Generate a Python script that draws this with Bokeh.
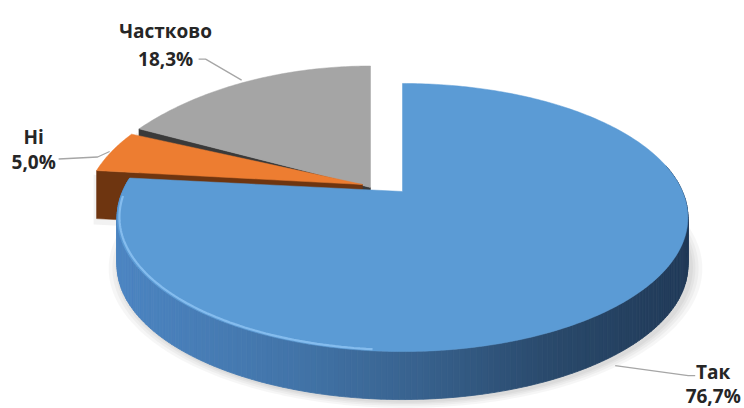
import numpy as np
from bokeh.plotting import figure
from bokeh.models import Range1d
from bokeh.embed import file_html
from bokeh.resources import INLINE
from bokeh.core.properties import value

# ---------------- data ----------------
categories = ["Так", "Ні", "Частково"]
shares = [76.7, 5.0, 18.3]
pct_labels = ["76,7%", "5,0%", "18,3%"]

# ---------------- style / layout ----------------
W, H = 744, 408
DEPTH = 48         # slice thickness (px)
geom = {           # per-slice apex position (explosion), radii and perspective, in px
    "Так": dict(cx=402, cy=191, S=280, T=129, k=0.194),
    "Ні": dict(cx=362, cy=184, S=273, T=133, k=0.194),
    "Частково": dict(cx=370, cy=187, S=290, T=164, k=0.35),
}
top_colors = {"Так": "#5B9BD5", "Ні": "#ED7D31", "Частково": "#A5A5A5"}
cut_colors = {"Ні": "#6E3510", "Частково": "#3A3A3A"}
# leader line offsets (start, elbow, end) and text offsets (x, name baseline, pct baseline)
leader = {
    "Так": [(-6, 14), (67, 24), (74, 24)],
    "Ні": [(-2, 0), (-14, 5.5), (-53, 7.5)],
    "Частково": [(-7, -1), (-43, -22), (-50, -22)],
}
text_off = {
    "Так": (92, 20, 44),
    "Ні": (-78, -14.5, 10.5),
    "Частково": (-83, -50, -22),
}

p = figure(width=W, height=H, x_range=Range1d(0, W), y_range=Range1d(H, 0),
           output_backend="svg", toolbar_location=None, min_border=0,
           x_axis_location=None, y_axis_location=None)
p.grid.visible = False
p.outline_line_color = None
p.background_fill_color = "white"
p.border_fill_color = "white"


def proj(g, th_deg, r=1.0, dz=0.0):
    th = np.radians(np.asarray(th_deg, dtype=float))
    s, c = np.sin(th) * r, np.cos(th) * r
    d = 1.0 / (1.0 + g["k"] * s)
    return g["cx"] + g["S"] * c * d, g["cy"] - g["T"] * s * d + dz


# slice angles (start at 12 o'clock, clockwise)
angles = {}
acc = 0.0
for cat, s in zip(categories, shares):
    a0 = 90 - acc * 3.6
    a1 = 90 - (acc + s) * 3.6
    angles[cat] = (a0, a1)
    acc += s

# ---------- soft shadow under the front of the main slice ----------
gb = geom["Так"]
th_front = np.linspace(-192, 15, 200)
for sc in [1.04, 1.027, 1.016, 1.007]:
    g2 = dict(gb)
    g2["S"] = gb["S"] * sc
    g2["T"] = gb["T"] * sc
    sx, sy = proj(g2, th_front, dz=DEPTH + 2)
    p.patch(sx + 3, sy, fill_color="#000000", fill_alpha=0.035, line_color=None)

# ---------- back slices: Частково, then Ні ----------
for cat in ["Частково", "Ні"]:
    g = geom[cat]
    a0, a1 = angles[cat]
    th = np.linspace(a0, a1, 80)
    ax, ay = proj(g, th)
    cx_, cy_ = g["cx"], g["cy"]
    # visible cut face at the start angle (facing the viewer)
    ox, oy = proj(g, a0)
    ox, oy = float(ox), float(oy)
    p.patch([ox - 3, ox - 3, cx_], [oy + 4, oy + DEPTH + 6, cy_ + DEPTH + 6],
            fill_color="#000000", fill_alpha=0.05, line_color=None)
    p.patch([cx_, ox, ox, cx_], [cy_, oy, oy + DEPTH, cy_ + DEPTH],
            fill_color=cut_colors[cat], line_color=cut_colors[cat], line_width=0.5)
    p.patch(np.r_[cx_, ax], np.r_[cy_, ay], fill_color=top_colors[cat],
            line_color=top_colors[cat], line_width=0.5)

# ---------- main slice: Так ----------
g = geom["Так"]
a0, a1 = angles["Так"]
th = np.linspace(a1, 12, 200)
tx, ty = proj(g, th)
bx, by = proj(g, th, dz=DEPTH)
stops_x = [120, 300, 420, 550, 690]
stops_c = np.array([[76, 133, 194], [66, 116, 168], [56, 98, 142], [42, 74, 108], [33, 58, 88]])
xs, ys, cols = [], [], []
for i in range(len(th) - 1):
    xs.append([tx[i], tx[i + 1], bx[i + 1], bx[i]])
    ys.append([ty[i], ty[i + 1], by[i + 1], by[i]])
    mx = 0.5 * (tx[i] + tx[i + 1])
    rgb = [int(np.interp(mx, stops_x, stops_c[:, k])) for k in range(3)]
    cols.append("#%02x%02x%02x" % tuple(rgb))
p.patches(xs, ys, fill_color=cols, line_color=cols, line_width=0.8)

th_top = np.linspace(a0, a1, 300)
ax, ay = proj(g, th_top)
p.patch(np.r_[g["cx"], ax], np.r_[g["cy"], ay], fill_color=top_colors["Так"],
        line_color=top_colors["Так"], line_width=0.5)
# bevel highlight on the front-left rim
hx, hy = proj(g, np.linspace(-178, -95, 80), r=0.992)
p.line(hx, hy, line_color="#8CC2F2", line_width=2.2, line_alpha=0.85)

# ---------- leader lines and labels ----------
for cat, pct in zip(categories, pct_labels):
    gg = geom[cat]
    a0, a1 = angles[cat]
    mid = 0.5 * (a0 + a1)
    axp, ayp = proj(gg, mid)
    axp, ayp = float(axp), float(ayp)
    if np.sin(np.radians(mid)) < 0:
        ayp += DEPTH
    pts = leader[cat]
    p.line([axp + dx for dx, dy in pts], [ayp + dy for dx, dy in pts],
           line_color="#A6A6A6", line_width=1.3)
    tx_, tn, tp = text_off[cat]
    p.text(x=[axp + tx_, axp + tx_], y=[ayp + tn, ayp + tp], text=[cat, pct],
           text_font=value("Open Sans"), text_font_style="bold", text_font_size="19px",
           text_align="center", text_baseline="alphabetic", text_color="#262626")

open("out.html", "w").write(file_html(p, INLINE))
